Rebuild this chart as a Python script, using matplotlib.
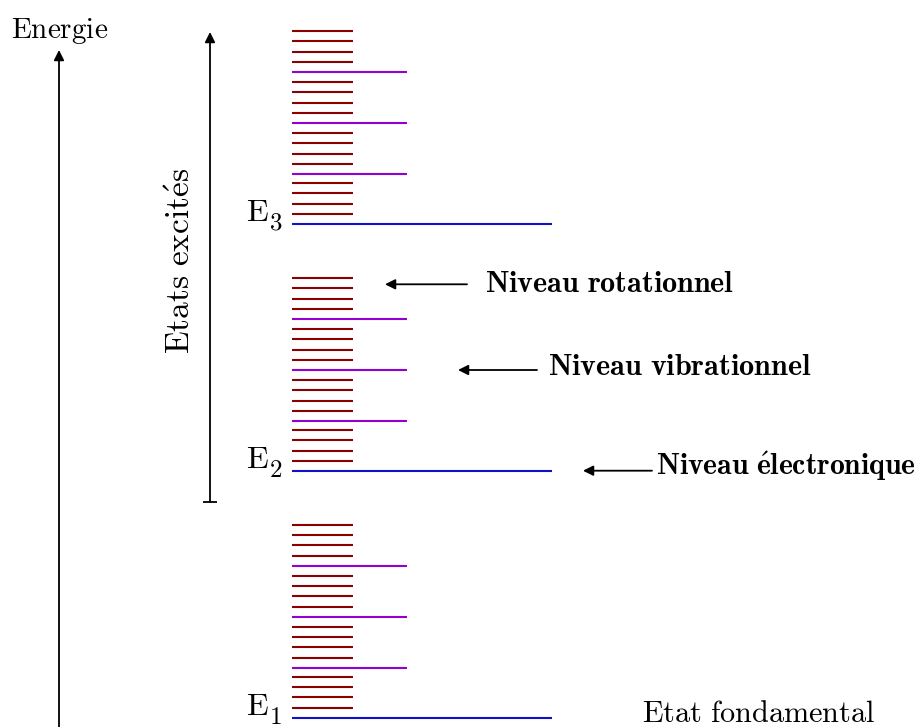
import matplotlib
matplotlib.use("Agg")
import matplotlib.pyplot as plt

# Computer Modern look for all the text
plt.rcParams['mathtext.fontset'] = 'cm'

# Energy levels (arbitrary units, E1 = 0)
electronic = [0.0, 246.7, 493.7]          # E1, E2, E3
electronic_index = ['1', '2', '3']
vib_offsets = [50.0, 101.0, 152.0]        # vibrational levels above each electronic level
rot_offsets = [10.0, 20.3, 30.7, 41.0]    # rotational levels above each vibrational level

# Colours
c_rot = '#8b0000'
c_vib = '#9400d3'
c_el = '#1010c8'

fig = plt.figure(figsize=(9.21, 7.27), dpi=100)
ax = fig.add_axes([0, 0, 1, 1])
ax.set_xlim(0, 921)
ax.set_ylim(-9.3, 717.7)
ax.axis('off')

x0 = 292
for e, idx in zip(electronic, electronic_index):
    ax.hlines(e, x0, 552, color=c_el, lw=1.5)
    # E label with a large, low subscript like the original
    ax.text(246, e + 3, r'$\mathrm{E}$', fontsize=23, ha='left', va='baseline')
    ax.text(268.5, e - 6, r'$\mathrm{%s}$' % idx, fontsize=18, ha='left', va='baseline')
    for v in [0.0] + vib_offsets:
        if v > 0:
            ax.hlines(e + v, x0, 407, color=c_vib, lw=1.5)
        for r in rot_offsets:
            ax.hlines(e + v + r, x0, 353, color=c_rot, lw=1.5)

arrow_kw = dict(arrowstyle='-|>', color='black', lw=1.3, mutation_scale=15,
                shrinkA=0, shrinkB=0)

# Energy axis
ax.annotate('', xy=(59, 667.7), xytext=(59, -10), arrowprops=arrow_kw)
ax.text(11, 680, r'$\mathrm{Energie}$', fontsize=21, ha='left', va='baseline')

# Excited states bracket
ax.annotate('', xy=(210, 685.7), xytext=(210, 216), arrowprops=arrow_kw)
ax.hlines(216, 203, 217, color='black', lw=1.3)
ax.text(180, 457, r'$\mathrm{Etats\ excit\acute{e}s}$', fontsize=24,
        rotation=90, ha='center', va='center')

# Labelled arrows
ax.annotate('', xy=(385, 433.4), xytext=(467, 433.4), arrowprops=arrow_kw)
ax.text(485, 425.7, r'$\mathbf{Niveau\ rotationnel}$', fontsize=21.7, va='baseline')

ax.annotate('', xy=(458, 347.7), xytext=(537, 347.7), arrowprops=arrow_kw)
ax.text(548, 342.7, r'$\mathbf{Niveau\ vibrationnel}$', fontsize=21.7, va='baseline')

ax.annotate('', xy=(583, 247), xytext=(652, 247), arrowprops=arrow_kw)
ax.text(656, 242.7, r'$\mathbf{Niveau\ \acute{e}lectronique}$', fontsize=21.3, va='baseline')

ax.text(642, -4, r'$\mathrm{Etat\ fondamental}$', fontsize=21.8, va='baseline')

fig.savefig('out.png', dpi=100)
